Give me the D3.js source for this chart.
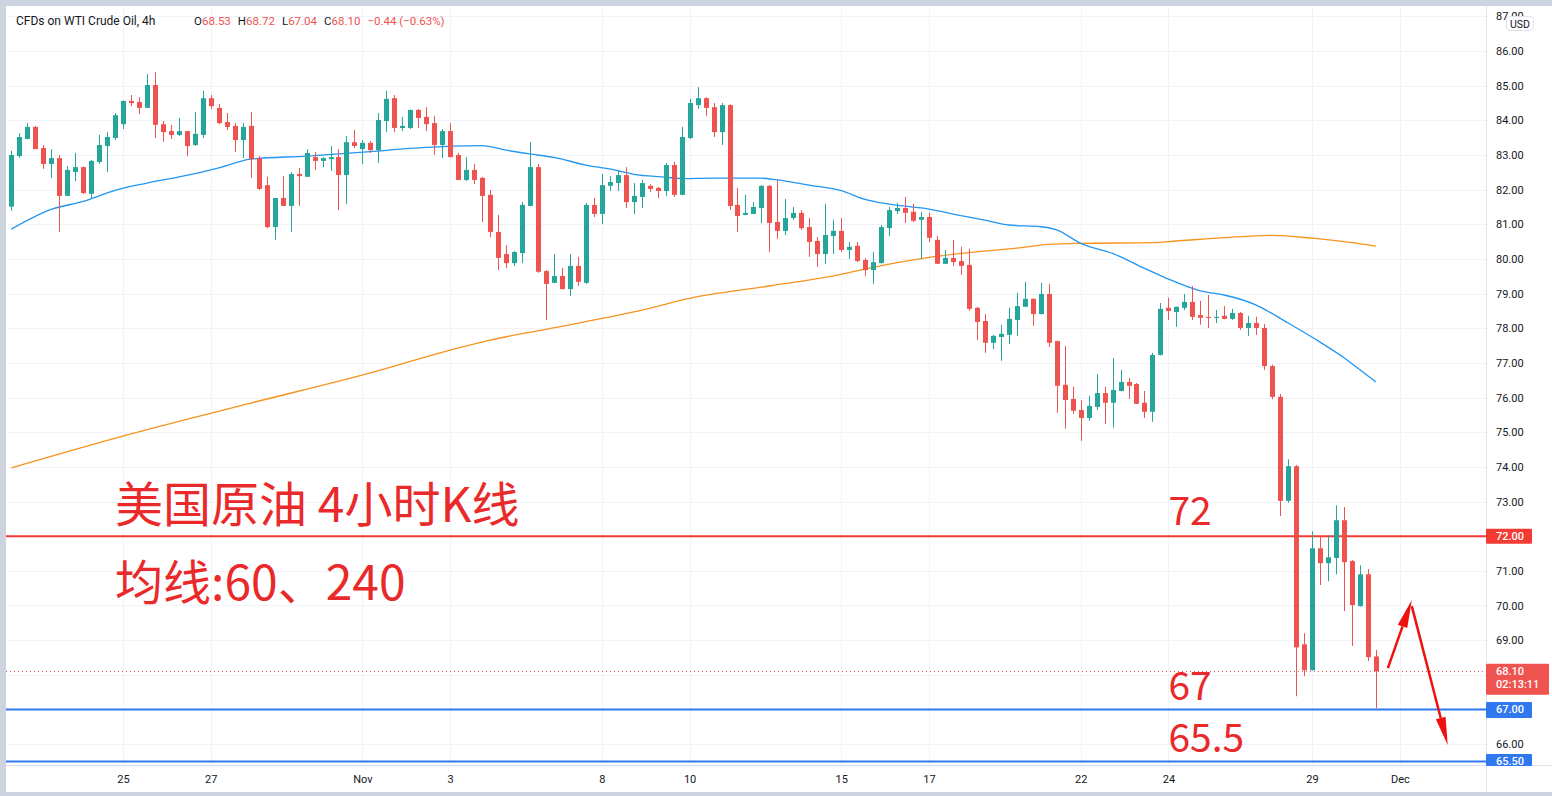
<!DOCTYPE html>
<html>
<head>
<meta charset="utf-8">
<script src="https://cdn.jsdelivr.net/npm/d3@7"></script>
<style>
  body { margin: 0; background: #cdd3df; }
  svg { display: block; font-family: Roboto, "Noto Sans", sans-serif; }
</style>
</head>
<body>
<div id="chart"></div>
<script>
// ---------------------------- DATA ----------------------------//
// 4h candles, index 0 = first visible bar (Oct 22)
const opens = [81.51,82.97,83.46,83.81,83.20,82.74,82.91,81.82,82.51,82.65,81.88,82.80,83.26,83.49,83.89,84.56,84.53,84.36,85.02,83.89,
  83.69,83.58,83.69,83.29,83.58,84.64,84.36,83.95,83.84,83.43,83.84,82.91,82.13,80.92,81.76,81.53,82.45,82.37,82.94,82.83,
  82.88,82.94,82.42,83.37,83.17,83.35,83.14,83.98,84.64,83.78,83.78,84.30,84.10,83.92,83.29,83.69,83.00,82.28,82.57,82.34,
  81.85,80.78,80.14,79.88,80.17,81.53,82.65,79.65,79.31,79.51,79.13,79.80,79.31,81.56,81.30,82.11,82.19,82.42,81.64,81.79,
  82.11,82.05,81.96,82.71,81.85,83.49,84.44,84.64,84.38,83.66,84.44,81.56,81.27,81.30,81.47,82.11,81.07,80.81,81.18,81.33,
  80.92,80.52,80.14,80.66,80.81,80.26,80.38,79.97,79.68,79.88,80.89,81.38,81.47,81.36,81.13,81.21,80.55,79.86,80.03,79.94,
  79.83,78.59,78.21,77.58,77.75,77.81,78.24,78.62,78.85,78.41,78.99,77.63,76.37,75.96,75.64,75.41,75.73,76.13,75.85,76.19,
  76.45,76.39,75.85,75.59,77.23,78.59,78.47,78.59,78.76,78.38,78.33,78.30,78.36,78.27,78.44,78.01,78.15,78.01,76.91,76.02,
  73.02,74.02,68.88,68.13,71.65,71.22,71.37,72.46,71.28,69.98,70.90,68.53];
const highs = [83.12,83.63,83.92,83.84,83.29,83.17,83.00,82.68,83.06,82.67,82.86,83.58,83.66,84.21,84.57,84.73,84.67,85.34,85.39,83.98,
  83.87,84.07,83.70,84.24,84.85,84.73,84.47,84.21,83.92,83.92,84.24,82.97,82.37,81.76,82.39,82.51,82.63,83.17,83.09,82.94,
  83.26,83.17,83.55,83.72,83.43,83.40,84.21,84.85,84.73,84.10,84.31,84.33,84.38,84.13,83.75,83.92,83.06,82.94,82.74,82.37,
  81.99,81.27,80.40,80.23,81.64,83.37,82.74,79.68,80.14,79.74,80.14,80.06,81.62,81.76,82.45,82.39,82.57,82.65,82.19,82.28,
  82.16,82.08,82.77,82.80,83.81,84.62,84.96,84.67,84.50,84.50,84.46,82.05,81.85,81.64,82.13,82.13,82.28,81.73,81.50,81.41,
  81.18,80.63,81.59,81.13,81.18,80.49,80.49,80.03,80.20,80.98,81.50,81.62,81.79,81.59,81.36,81.33,80.66,80.26,80.55,80.35,
  80.29,78.62,78.41,77.81,78.10,78.59,79.02,79.34,78.86,79.31,79.28,77.64,77.49,76.31,75.93,76.05,76.68,76.31,77.14,76.80,
  76.57,76.42,76.19,77.29,78.73,78.88,78.62,78.99,79.22,78.79,78.96,78.53,78.64,78.56,78.47,78.36,78.33,78.12,76.95,76.10,
  74.22,74.05,69.20,72.14,72.00,72.00,72.89,72.84,71.31,71.16,71.05,68.72];
const lows = [81.39,82.92,83.46,83.17,82.60,82.34,80.78,81.82,82.25,81.88,81.76,82.74,82.51,83.43,83.75,84.41,84.18,84.36,83.49,83.38,
  83.46,83.55,82.97,83.26,83.49,84.33,83.89,83.72,83.09,82.91,82.34,81.99,80.89,80.55,81.53,80.78,81.53,82.37,82.57,82.65,
  82.54,81.41,81.59,83.20,82.74,83.06,82.77,83.66,83.66,83.69,83.75,83.78,83.69,83.00,82.91,82.93,82.27,82.25,82.16,81.07,
  80.63,79.68,79.74,79.80,79.88,81.52,79.60,78.24,79.30,79.12,78.93,79.22,79.28,81.21,81.01,81.96,81.96,81.47,81.30,81.47,
  81.93,81.76,81.82,81.79,81.84,83.46,84.33,84.13,83.52,83.29,81.41,80.78,81.26,81.29,81.04,80.20,80.58,80.69,81.13,80.84,
  80.06,79.77,79.86,80.14,80.20,80.00,79.91,79.51,79.28,79.87,80.66,81.30,81.04,81.07,80.00,80.49,79.85,79.85,79.80,79.54,
  78.50,77.66,77.29,77.40,77.06,77.55,77.78,78.61,78.07,78.40,77.46,75.56,75.10,75.53,74.75,75.33,75.64,75.24,75.13,76.18,
  75.96,75.81,75.41,75.30,77.22,78.24,78.04,78.53,78.24,78.10,78.01,78.15,78.26,78.24,77.95,77.78,77.81,76.80,75.95,72.58,
  72.96,67.38,67.96,68.12,70.59,70.70,70.90,69.84,68.83,69.97,68.39,67.04];
const closes = [83.00,83.52,83.81,83.17,82.74,82.91,81.82,82.57,82.65,81.90,82.83,83.29,83.52,84.15,84.56,84.50,84.36,85.02,83.87,83.66,
  83.58,83.69,83.26,83.61,84.64,84.41,83.92,83.81,83.43,83.81,82.88,82.02,80.92,81.76,81.53,82.45,82.39,83.06,82.83,82.91,
  82.94,82.42,83.37,83.26,83.35,83.14,84.01,84.62,83.78,83.84,84.30,84.07,83.89,83.29,83.69,82.94,82.28,82.57,82.28,81.82,
  80.78,80.03,79.88,80.20,81.56,82.65,79.63,79.28,79.51,79.13,79.80,79.34,81.56,81.30,82.13,82.22,82.42,81.64,81.82,82.19,
  82.02,81.96,82.71,81.85,83.52,84.50,84.64,84.36,83.66,84.44,81.53,81.24,81.33,81.50,82.11,81.04,80.81,81.18,81.33,80.89,
  80.49,80.14,80.69,80.81,80.26,80.35,79.94,79.68,79.91,80.92,81.41,81.47,81.33,81.10,81.21,80.61,79.86,80.03,79.91,79.80,
  78.56,78.18,77.58,77.78,77.84,78.27,78.64,78.85,78.41,78.99,77.58,76.34,75.93,75.62,75.41,75.76,76.13,75.85,76.22,76.45,
  76.34,75.82,75.59,77.23,78.56,78.50,78.62,78.76,78.33,78.30,78.30,78.33,78.27,78.44,78.01,78.15,78.01,76.91,76.02,73.02,
  74.02,68.79,68.13,71.65,71.22,71.39,72.46,71.25,70.01,70.90,68.51,68.10];

// moving averages: [bar index, value]
const ma60 = [[0,80.86],[5,81.43],[9,81.66],[13,81.98],[17,82.19],[23,82.46],[26,82.63],[30,82.88],[37,82.97],[45,83.10],
  [50,83.19],[54,83.24],[59,83.27],[62,83.14],[65,83.03],[68,82.93],[72,82.71],[76,82.55],[78,82.44],[82,82.36],[84,82.32],
  [88,82.33],[94,82.33],[96,82.28],[100,82.13],[104,81.97],[107,81.72],[110,81.58],[115,81.44],[119,81.25],[122,81.12],
  [125,80.98],[129,80.93],[131,80.84],[134,80.45],[138,80.16],[142,79.73],[145,79.42],[149,79.08],[152,78.96],[156,78.67],
  [160,78.15],[164,77.60],[167,77.15],[169,76.80],[171,76.45]];
const ma240 = [[0,73.97],[15,74.95],[30,75.84],[45,76.71],[55,77.37],[60,77.66],[67,77.97],[78,78.47],[86,78.91],[95,79.22],
  [103,79.51],[108,79.76],[114,80.01],[119,80.16],[126,80.31],[130,80.42],[134,80.45],[143,80.47],[145,80.50],[153,80.63],
  [158,80.68],[163,80.60],[168,80.47],[171,80.37]];

// time axis
const dayIdx = [14, 25, 44, 55, 74, 85, 104, 115, 134, 145, 163, 174];
const dayText = ['25', '27', 'Nov', '3', '8', '10', '15', '17', '22', '24', '29', 'Dec'];

// horizontal levels
const redLevel = 72.00;
const blueLevels = [67.00, 65.50];
const lastPrice = 68.10;
const countdown = '02:13:11';
const change = '−0.44 (−0.63%)';

// -------------------------- LAYOUT ----------------------------//
const W = 1552, H = 796;
const padL = 6, padT = 6, plotRight = 1486, plotBottom = 765;
const up = '#26a69a', down = '#ef5350';

const svg = d3.select('#chart').append('svg')
  .attr('width', W).attr('height', H);

svg.append('rect').attr('width', W).attr('height', H).attr('fill', '#cdd3df');
svg.append('rect').attr('x', padL).attr('y', padT)
  .attr('width', W - padL).attr('height', 792 - padT).attr('fill', '#fff');

const x = d3.scaleLinear().domain([0, 171]).range([11.3, 1375.9]);
const y = d3.scaleLinear().domain([65.5, 86]).range([761.4, 51.05]);

svg.append('clipPath').attr('id', 'plot')
  .append('rect').attr('x', padL).attr('y', padT)
  .attr('width', plotRight - padL).attr('height', plotBottom - padT);

const plot = svg.append('g').attr('clip-path', 'url(#plot)');

// --------------------------- GRID -----------------------------//
const priceTicks = d3.range(66, 88);
plot.selectAll('.hgrid').data(priceTicks).enter().append('line')
  .attr('x1', padL).attr('x2', plotRight)
  .attr('y1', d => Math.round(y(d)) + 0.5).attr('y2', d => Math.round(y(d)) + 0.5)
  .attr('stroke', '#f0f3fa');
plot.selectAll('.vgrid').data(dayIdx).enter().append('line')
  .attr('x1', d => Math.round(x(d)) + 0.5).attr('x2', d => Math.round(x(d)) + 0.5)
  .attr('y1', padT).attr('y2', plotBottom)
  .attr('stroke', '#f0f3fa');

// -------------------------- LEVELS ----------------------------//
plot.append('line')
  .attr('x1', padL).attr('x2', plotRight)
  .attr('y1', y(redLevel)).attr('y2', y(redLevel))
  .attr('stroke', '#f23b32').attr('stroke-width', 2);
plot.selectAll('.blevel').data(blueLevels).enter().append('line')
  .attr('x1', padL).attr('x2', plotRight)
  .attr('y1', d => y(d)).attr('y2', d => y(d))
  .attr('stroke', '#2f78ef').attr('stroke-width', 2);
plot.append('line')
  .attr('x1', padL).attr('x2', plotRight)
  .attr('y1', Math.round(y(lastPrice)) + 0.5).attr('y2', Math.round(y(lastPrice)) + 0.5)
  .attr('stroke', down).attr('stroke-dasharray', '1,3');

// ------------------------- AVERAGES ---------------------------//
const maLine = d3.line().curve(d3.curveMonotoneX)
  .x(d => x(d[0])).y(d => y(d[1]));
plot.append('path').attr('d', maLine(ma240))
  .attr('fill', 'none').attr('stroke', '#f7931e').attr('stroke-width', 1.3);
plot.append('path').attr('d', maLine(ma60))
  .attr('fill', 'none').attr('stroke', '#2196f3').attr('stroke-width', 1.3);

// -------------------------- CANDLES ---------------------------//
const bars = opens.map((o, i) => ({ i, o, h: highs[i], l: lows[i], c: closes[i] }));
const candle = plot.selectAll('.candle').data(bars).enter().append('g');
candle.append('line')
  .attr('x1', d => Math.round(x(d.i)) + 0.5).attr('x2', d => Math.round(x(d.i)) + 0.5)
  .attr('y1', d => y(d.h)).attr('y2', d => y(d.l))
  .attr('stroke', d => (d.c >= d.o ? up : down));
candle.append('rect')
  .attr('x', d => Math.round(x(d.i)) - 2)
  .attr('width', 5)
  .attr('y', d => y(Math.max(d.o, d.c)))
  .attr('height', d => Math.max(1, Math.abs(y(d.o) - y(d.c))))
  .attr('fill', d => (d.c >= d.o ? up : down));

// ------------------------ ANNOTATIONS -------------------------//
const red = '#ea2a2a';
const cjk = '"Noto Sans CJK SC", "Noto Sans", sans-serif';
svg.append('text').attr('x', x(13)).attr('y', y(72.42))
  .attr('fill', red).style('font-family', cjk).style('font-size', '48px')
  .text('美国原油 4小时K线');
svg.append('text').attr('x', x(13)).attr('y', y(70.16))
  .attr('fill', red).style('font-family', cjk).style('font-size', '48px')
  .text('均线:60、240');
[['72', 72.32], ['67', 67.28], ['65.5', 65.78]].forEach(([t, p]) => {
  svg.append('text').attr('x', x(145)).attr('y', y(p))
    .attr('fill', red).style('font-family', cjk).style('font-size', '39px')
    .text(t);
});

function arrow(i1, p1, i2, p2) {
  const x1 = x(i1), y1 = y(p1), x2 = x(i2), y2 = y(p2);
  const a = Math.atan2(y2 - y1, x2 - x1);
  const len = 28, hw = 5;
  const bx = x2 - len * Math.cos(a), by = y2 - len * Math.sin(a);
  const nx = -Math.sin(a) * hw, ny = Math.cos(a) * hw;
  svg.append('line').attr('x1', x1).attr('y1', y1).attr('x2', bx).attr('y2', by)
    .attr('stroke', '#f01010').attr('stroke-width', 2.5);
  svg.append('path')
    .attr('d', `M${x2},${y2}L${bx + nx},${by + ny}L${bx - nx},${by - ny}Z`)
    .attr('fill', '#f01010');
}
arrow(172.5, 68.19, 175.5, 70.16);
arrow(175.5, 69.98, 180.0, 65.97);

// ---------------------------- AXES ----------------------------//
svg.append('line').attr('x1', plotRight + 0.5).attr('x2', plotRight + 0.5)
  .attr('y1', padT).attr('y2', 792).attr('stroke', '#e0e3eb');
svg.append('line').attr('x1', padL).attr('x2', W)
  .attr('y1', plotBottom + 0.5).attr('y2', plotBottom + 0.5).attr('stroke', '#e0e3eb');

// ticks hidden behind the price tags are left out
const hidden = [67, 68, 72];
const yAxis = d3.axisRight(y).tickValues(priceTicks.filter(d => !hidden.includes(d)))
  .tickSize(0).tickPadding(10).tickFormat(d => d.toFixed(2));
const ya = svg.append('g').attr('transform', `translate(${plotRight},0)`).call(yAxis);
ya.select('.domain').remove();
ya.selectAll('text').attr('fill', '#131722').style('font-size', '11px')
  .style('font-family', 'Roboto, sans-serif');

const xAxis = d3.axisBottom(x).tickValues(dayIdx).tickSize(0).tickPadding(10)
  .tickFormat((d, k) => dayText[k]);
const xa = svg.append('g').attr('transform', `translate(0,${plotBottom})`).call(xAxis);
xa.select('.domain').remove();
xa.selectAll('text').attr('fill', '#131722').style('font-size', '11px')
  .style('font-family', 'Roboto, sans-serif');

// price labels on the axis
function tag(p, fill, lines, w, h) {
  const g = svg.append('g');
  const yy = y(p);
  g.append('rect').attr('x', plotRight).attr('y', yy - 7.5).attr('width', w).attr('height', h)
    .attr('fill', fill).attr('rx', 1);
  lines.forEach((t, k) => {
    g.append('text').attr('x', plotRight + 10).attr('y', yy + 4 + k * 13)
      .attr('fill', '#fff').style('font-size', '11px').style('font-weight', 500).text(t);
  });
}
tag(redLevel, '#f23b32', [redLevel.toFixed(2)], 46, 15);
tag(lastPrice, down, [lastPrice.toFixed(2), countdown], 63, 31);
tag(blueLevels[0], '#2f78ef', [blueLevels[0].toFixed(2)], 46, 16);
tag(blueLevels[1], '#2f78ef', [blueLevels[1].toFixed(2)], 46, 12);
svg.append('rect').attr('x', plotRight + 1).attr('y', plotBottom + 1).attr('width', 65).attr('height', 26)
  .attr('fill', '#fff');

// USD badge
svg.append('rect').attr('x', 1506.5).attr('y', 16.5).attr('width', 27).attr('height', 14).attr('rx', 3)
  .attr('fill', '#fff').attr('stroke', '#e0e3eb');
svg.append('text').attr('x', 1520).attr('y', 27.5).attr('text-anchor', 'middle')
  .attr('fill', '#131722').style('font-size', '10.5px').text('USD');

// --------------------------- HEADER ---------------------------//
const hdr = svg.append('g').style('font-size', '12px');
hdr.append('text').attr('x', 16).attr('y', 25).attr('fill', '#131722').text('CFDs on WTI Crude Oil, 4h');
const ohlc = [['O', opens[171]], ['H', highs[171]], ['L', lows[171]], ['C', closes[171]]];
let hx = 194;
ohlc.forEach(([k, v]) => {
  const t = hdr.append('text').attr('x', hx).attr('y', 25).attr('fill', '#131722')
    .style('font-size', '11.5px');
  t.append('tspan').text(k);
  t.append('tspan').attr('fill', down).text(v.toFixed(2));
  hx += t.node().getComputedTextLength() + 7;
});
hdr.append('text').attr('x', hx).attr('y', 25).attr('fill', down)
  .style('font-size', '11.5px').text(change);
</script>
</body>
</html>
